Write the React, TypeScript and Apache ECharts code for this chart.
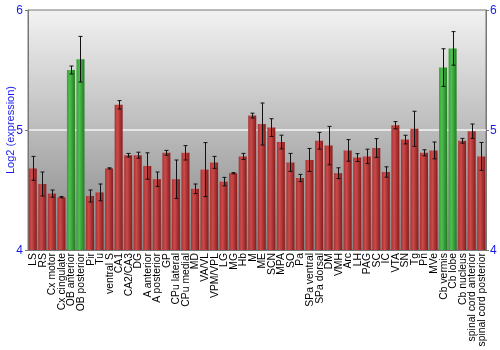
import React, { useEffect, useRef } from "react";
import * as echarts from "echarts";

const categories = [
  "LS", "RS", "Cx motor", "Cx cingulate", "OB anterior", "OB posterior", "Pir", "Tu",
  "ventral S", "CA1", "CA2/CA3", "DG", "A anterior", "A posterior", "GP", "CPu lateral",
  "CPu medial", "MD", "VA/VL", "VPM/VPL", "LG", "MG", "Hb", "M", "ME", "SCN", "MPA",
  "SO", "Pa", "SPa ventral", "SPa dorsal", "DM", "VMH", "Arc", "LH", "PAG", "SC", "IC",
  "VTA", "SN", "Tg", "Pn", "MVe", "Cb vermis", "Cb lobe", "Cb nucleus",
  "spinal cord anterior", "spinal cord posterior",
];

const means = [
  4.68, 4.55, 4.47, 4.44, 5.5, 5.59, 4.45, 4.48,
  4.68, 5.21, 4.79, 4.79, 4.7, 4.59, 4.81, 4.59,
  4.81, 4.51, 4.67, 4.73, 4.57, 4.64, 4.78, 5.12, 5.05, 5.02, 4.9,
  4.73, 4.6, 4.75, 4.91, 4.87, 4.64, 4.83, 4.77, 4.78, 4.85, 4.65,
  5.04, 4.92, 5.01, 4.81, 4.83, 5.52, 5.68, 4.91,
  4.99, 4.78,
];

const errors = [
  0.1, 0.1, 0.03, 0.005, 0.033, 0.19, 0.05, 0.07,
  0.005, 0.035, 0.015, 0.025, 0.11, 0.06, 0.02, 0.16,
  0.06, 0.04, 0.225, 0.05, 0.035, 0.005, 0.025, 0.02, 0.175, 0.074, 0.057,
  0.075, 0.03, 0.096, 0.07, 0.16, 0.045, 0.09, 0.033, 0.06, 0.078, 0.043,
  0.03, 0.036, 0.146, 0.025, 0.07, 0.157, 0.14, 0.02,
  0.06, 0.116,
];

const highlighted = ["OB anterior", "OB posterior", "Cb vermis", "Cb lobe"];

const yTicks = [4, 5, 6];

const redFill = new echarts.graphic.LinearGradient(0, 0, 1, 0, [
  { offset: 0, color: "#a83232" },
  { offset: 0.35, color: "#cc4a4a" },
  { offset: 1, color: "#861c1c" },
]);
const greenFill = new echarts.graphic.LinearGradient(0, 0, 1, 0, [
  { offset: 0, color: "#37a037" },
  { offset: 0.35, color: "#4cc04c" },
  { offset: 1, color: "#257a25" },
]);

export default function App() {
  const ref = useRef<HTMLDivElement>(null);
  useEffect(() => {
    if (!ref.current) return;
    const chart = echarts.init(ref.current, null, { renderer: "svg" });
    const blue = "#1a1aee";
    const font = "'Liberation Sans', Arial, sans-serif";
    const barData = means.map((v, i) => ({
      value: v,
      itemStyle: { color: highlighted.includes(categories[i]) ? greenFill : redFill },
    }));
    const errData = means.map((v, i) => [i, v - errors[i], v + errors[i]]);
    chart.setOption({
      animation: false,
      textStyle: { fontFamily: font },
      grid: {
        left: 28,
        right: 14,
        top: 10,
        bottom: 100,
        outerBoundsMode: "none",
        containLabel: false,
        show: true,
        borderColor: "#777",
        borderWidth: 1,
        backgroundColor: new echarts.graphic.LinearGradient(0, 0, 0, 1, [
          { offset: 0, color: "#f2f2f2" },
          { offset: 1, color: "#848484" },
        ]),
      },
      xAxis: {
        type: "category",
        data: categories,
        axisLine: { lineStyle: { color: "#777" } },
        axisTick: { show: false },
        axisLabel: {
          interval: 0,
          rotate: 90,
          color: "#000",
          fontSize: 10.4,
          margin: 3,
          fontFamily: font,
        },
      },
      yAxis: [
        {
          type: "value",
          min: yTicks[0],
          max: yTicks[yTicks.length - 1],
          interval: 1,
          name: "Log2 (expression)",
          nameLocation: "middle",
          nameGap: 13,
          nameMoveOverlap: false,
          nameTextStyle: { color: blue, fontSize: 11, fontFamily: font },
          axisLine: { show: true, lineStyle: { color: "#777" } },
          axisTick: { show: true, length: 3, lineStyle: { color: "#777" } },
          axisLabel: { color: blue, fontSize: 12, margin: 5, fontFamily: font },
          splitLine: {
            show: true,
            showMinLine: false,
            showMaxLine: false,
            lineStyle: { color: "#f4f4f4", width: 1.5 },
          },
        },
        {
          type: "value",
          position: "right",
          min: yTicks[0],
          max: yTicks[yTicks.length - 1],
          interval: 1,
          axisLine: { show: true, lineStyle: { color: "#777" } },
          axisTick: { show: true, length: 3, lineStyle: { color: "#777" } },
          axisLabel: { color: blue, fontSize: 12, margin: 4, fontFamily: font },
          splitLine: { show: false },
        },
      ],
      series: [
        {
          type: "bar",
          data: barData,
          barCategoryGap: "16%",
        },
        {
          type: "custom",
          data: errData,
          z: 10,
          renderItem: (params: any, api: any) => {
            const x = api.value(0);
            const lo = api.coord([x, api.value(1)]);
            const hi = api.coord([x, api.value(2)]);
            const cx = Math.round(lo[0]) + 0.5;
            const w = 2;
            const style = { stroke: "#111", lineWidth: 1 };
            return {
              type: "group",
              children: [
                { type: "line", shape: { x1: cx, y1: hi[1], x2: cx, y2: lo[1] }, style },
                { type: "line", shape: { x1: cx - w, y1: hi[1], x2: cx + w, y2: hi[1] }, style },
                { type: "line", shape: { x1: cx - w, y1: lo[1], x2: cx + w, y2: lo[1] }, style },
              ],
            };
          },
        },
      ],
    });
    return () => chart.dispose();
  }, []);
  return (
    <div
      ref={ref}
      style={{ position: "fixed", left: 0, top: 0, width: 500, height: 350 }}
    />
  );
}
